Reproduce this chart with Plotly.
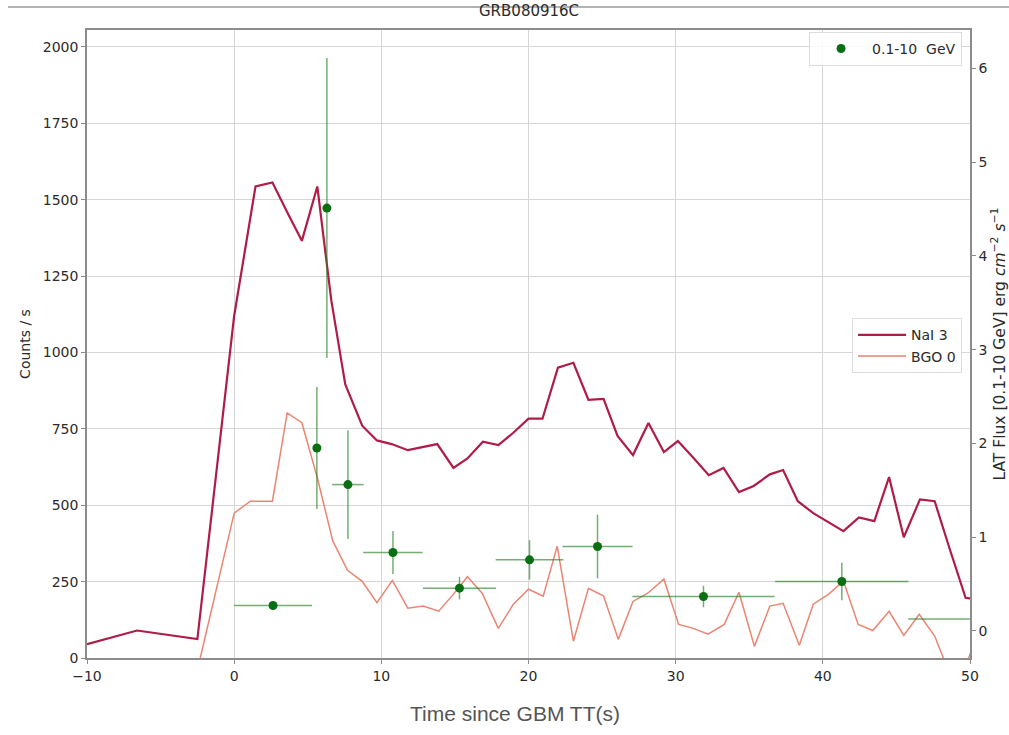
import plotly.graph_objects as go

# ---- data ----
nai_t = [-10.0, -6.6, -2.5, 0.0, 1.45, 2.6, 3.7, 4.6, 5.65, 6.6, 7.55, 8.7, 9.7, 10.7, 11.8,
         12.8, 13.8, 14.9, 15.85, 16.9, 17.95, 18.97, 20.0, 20.95, 22.0, 23.05, 24.07, 25.1,
         26.05, 27.1, 28.15, 29.2, 30.15, 31.2, 32.25, 33.25, 34.3, 35.3, 36.4, 37.3, 38.3,
         39.35, 40.4, 41.4, 42.45, 43.5, 44.5, 45.5, 46.6, 47.6, 48.6, 49.7, 50.6]
nai_c = [45, 90, 62, 1120, 1543, 1556, 1450, 1365, 1543, 1170, 895, 760, 712, 700, 680,
         690, 700, 622, 653, 708, 697, 737, 783, 783, 950, 966, 845, 848,
         727, 664, 769, 674, 710, 655, 598, 622, 543, 563, 601, 615, 513,
         474, 445, 415, 460, 448, 592, 395, 519, 513, 360, 197, 192]

bgo_t = [-2.5, 0.0, 1.1, 2.6, 3.6, 4.6, 5.65, 6.7, 7.7, 8.7, 9.7, 10.75, 11.8, 12.85, 13.9,
         14.9, 15.85, 16.85, 17.95, 18.97, 20.0, 21.0, 21.95, 23.05, 24.07, 25.1, 26.1, 27.1,
         28.1, 29.2, 30.2, 31.2, 32.2, 33.3, 34.3, 35.35, 36.4, 37.3, 38.4, 39.35, 40.4, 41.4,
         42.4, 43.4, 44.5, 45.5, 46.55, 47.6, 48.6, 49.6, 50.6]
bgo_c = [-40, 474, 513, 513, 802, 770, 590, 383, 287, 251, 181, 254, 163, 170, 153,
         209, 266, 212, 97, 176, 225, 202, 366, 55, 228, 203, 61, 185,
         212, 258, 110, 97, 78, 110, 215, 38, 170, 179, 42, 176, 209, 252,
         110, 90, 153, 74, 143, 72, -50, -40, 90]

lat_t = [2.64, 5.62, 6.3, 7.73, 10.79, 15.31, 20.07, 24.69, 31.89, 41.29, 50.5]
lat_terr = [2.65, 0.0, 0.0, 1.07, 2.02, 2.48, 2.3, 2.38, 4.83, 4.53, 4.7]
lat_f = [0.27, 1.95, 4.51, 1.56, 0.835, 0.455, 0.757, 0.90, 0.366, 0.526, 0.125]
lat_ferr = [0.04, 0.65, 1.6, 0.58, 0.23, 0.12, 0.21, 0.34, 0.115, 0.2, 0.04]

x_ticks = [-10, 0, 10, 20, 30, 40, 50]
y_ticks = [0, 250, 500, 750, 1000, 1250, 1500, 1750, 2000]
y2_ticks = [0, 1, 2, 3, 4, 5, 6]

FONT = "DejaVu Sans"
TXT = "#2b2b2b"
SPINE = "#8c8c8c"
GRID = "#d6d6d6"

fig = go.Figure()
fig.add_trace(go.Scatter(x=nai_t, y=nai_c, mode="lines", name="NaI 3",
                         line=dict(color="#b01c48", width=2.2), legend="legend2"))
fig.add_trace(go.Scatter(x=bgo_t, y=bgo_c, mode="lines", name="BGO 0",
                         line=dict(color="#ea8572", width=1.5), legend="legend2"))
fig.add_trace(go.Scatter(x=lat_t, y=lat_f, mode="markers", name="0.1-10  GeV", yaxis="y2",
                         marker=dict(color="#0a6e12", size=9),
                         error_x=dict(type="data", array=lat_terr, color="rgba(40,130,40,0.65)",
                                      thickness=1.5, width=0),
                         error_y=dict(type="data", array=lat_ferr, color="rgba(40,130,40,0.65)",
                                      thickness=1.5, width=0),
                         legend="legend"))

axis_common = dict(ticks="outside", ticklen=4, tickcolor=SPINE, tickwidth=1,
                   tickfont=dict(family=FONT, size=14, color=TXT),
                   showline=True, linecolor=SPINE, linewidth=1.5, zeroline=False,
                   automargin=False)

fig.update_layout(
    width=1009, height=735,
    margin=dict(l=87, r=39, t=30, b=77),
    paper_bgcolor="white", plot_bgcolor="white",
    showlegend=True,
    xaxis=dict(range=[-10, 50], tickvals=x_ticks, showgrid=True, gridcolor=GRID,
               gridwidth=1, mirror=True, **axis_common),
    yaxis=dict(range=[0, 2055], tickvals=y_ticks, showgrid=True, gridcolor=GRID, gridwidth=1,
               title=dict(text="Counts / s", font=dict(family=FONT, size=14, color=TXT),
                          standoff=9),
               **axis_common),
    yaxis2=dict(range=[-0.29, 6.41], tickvals=y2_ticks, overlaying="y", side="right",
                showgrid=False,
                title=dict(text="LAT Flux [0.1-10 GeV] erg <i>cm</i><sup>−2</sup> <i>s</i><sup>−1</sup>",
                           font=dict(family=FONT, size=15.5, color=TXT), standoff=8),
                **axis_common),
    legend=dict(x=0.991, y=0.997, xanchor="right", yanchor="top", itemwidth=52,
                bgcolor="rgba(255,255,255,0.85)", bordercolor="#dddddd", borderwidth=1,
                font=dict(family=FONT, size=14, color=TXT)),
    legend2=dict(x=0.991, y=0.541, xanchor="right", yanchor="top", itemwidth=48,
                 bgcolor="rgba(255,255,255,0.85)", bordercolor="#dddddd", borderwidth=1,
                 font=dict(family=FONT, size=14, color=TXT)),
    annotations=[
        dict(text="GRB080916C", xref="paper", yref="paper", x=0.5, y=1.03,
             xanchor="center", yanchor="middle", showarrow=False,
             font=dict(family=FONT, size=15, color=TXT)),
        dict(text="Time since GBM TT(s)", xref="paper", yref="paper", x=0.4847, y=-0.089,
             xanchor="center", yanchor="middle", showarrow=False,
             font=dict(family="Liberation Sans", size=21, color="#555555")),
    ],
    shapes=[
        dict(type="line", xref="paper", yref="paper", x0=-0.0895, x1=1.05, y0=1.0366, y1=1.0366,
             line=dict(color="#9a9a9a", width=1.5)),
    ],
)

fig.write_html("out.html")
